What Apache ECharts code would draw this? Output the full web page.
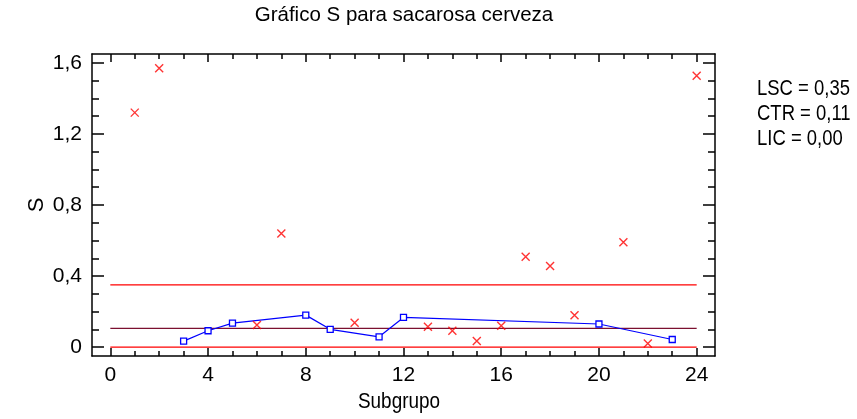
<!DOCTYPE html>
<html>
<head>
<meta charset="utf-8">
<script src="https://cdn.jsdelivr.net/npm/echarts@6/dist/echarts.min.js"></script>
<style>html,body{margin:0;padding:0;background:#fff}#c{width:857px;height:419px}</style>
</head>
<body>
<div id="c"></div>
<script>
// ---- data ----
var titleText = 'Gráfico S para sacarosa cerveza';
var xName = 'Subgrupo';
var yName = 'S';
// excluded subgroups (red crosses)
var crossSubgroups = [1, 2, 6, 7, 10, 13, 14, 15, 16, 17, 18, 19, 21, 22, 24];
var crossValues   = [1.32, 1.57, 0.124, 0.64, 0.137, 0.114, 0.092, 0.034, 0.12, 0.509, 0.456, 0.18, 0.59, 0.021, 1.527];
// included subgroups (blue squares, joined)
var squareSubgroups = [3, 4, 5, 8, 9, 11, 12, 20, 23];
var squareValues    = [0.034, 0.092, 0.135, 0.18, 0.10, 0.058, 0.167, 0.13, 0.043];
// control limits
var limitNames  = ['LSC', 'CTR', 'LIC'];
var limitValues = [0.35, 0.105, 0.0];
var limitLabels = ['0,35', '0,11', '0,00'];
var limitRange  = [0, 24];
// axis ticks
var xLabelValues = [0, 4, 8, 12, 16, 20, 24];
var xLabelTexts  = ['0', '4', '8', '12', '16', '20', '24'];
var xMinorTicks  = [0,1,2,3,4,5,6,7,8,9,10,11,12,13,14,15,16,17,18,19,20,21,22,23,24];
var yLabelValues = [0, 0.4, 0.8, 1.2, 1.6];
var yLabelTexts  = ['0', '0,4', '0,8', '1,2', '1,6'];
var yMinorTicks  = [0,0.1,0.2,0.3,0.4,0.5,0.6,0.7,0.8,0.9,1.0,1.1,1.2,1.3,1.4,1.5,1.6];
var xMin = -0.75, xMax = 24.75, yMin = -0.05, yMax = 1.65;

// ---- chart ----
var FONT = "'Liberation Sans', Arial, sans-serif";
var chart = echarts.init(document.getElementById('c'), null, {renderer: 'canvas'});

function lab(values, texts) {
  return function (v) {
    for (var i = 0; i < values.length; i++) if (Math.abs(values[i] - v) < 1e-9) return texts[i];
    return '';
  };
}

function xAxisDef(gridIndex, position, ticks, len, showLine, showLabel) {
  return {
    type: 'value', gridIndex: gridIndex, position: position, min: xMin, max: xMax,
    axisLine: {show: showLine, onZero: false, lineStyle: {color: '#000', width: 1.5}},
    axisTick: {show: true, inside: true, length: len, customValues: ticks, lineStyle: {color: '#000', width: 1.5}},
    axisLabel: {show: showLabel, customValues: xLabelValues, formatter: lab(xLabelValues, xLabelTexts),
      color: '#000', fontFamily: FONT, fontSize: 21, margin: 9},
    splitLine: {show: false}
  };
}
function yAxisDef(gridIndex, position, ticks, len, showLine, showLabel) {
  return {
    type: 'value', gridIndex: gridIndex, position: position, min: yMin, max: yMax,
    axisLine: {show: showLine, onZero: false, lineStyle: {color: '#000', width: 1.5}},
    axisTick: {show: true, inside: true, length: len, customValues: ticks, lineStyle: {color: '#000', width: 1.5}},
    axisLabel: {show: showLabel, customValues: yLabelValues, formatter: lab(yLabelValues, yLabelTexts),
      color: '#000', fontFamily: FONT, fontSize: 21, margin: 10},
    splitLine: {show: false}
  };
}

var limitColors = ['#ff0000', '#7b1030', '#ff0000'];
var series = [];
limitValues.forEach(function (v, i) {
  series.push({
    type: 'line', xAxisIndex: 0, yAxisIndex: 0, symbol: 'none', silent: true,
    data: [[limitRange[0], v], [limitRange[1], v]],
    lineStyle: {color: limitColors[i], width: 1.3}, z: 2
  });
});
series.push({
  type: 'line', xAxisIndex: 0, yAxisIndex: 0,
  data: squareSubgroups.map(function (s, i) { return [s, squareValues[i]]; }),
  symbol: 'rect', symbolSize: 6, showSymbol: true,
  lineStyle: {color: '#0000ff', width: 1.2},
  itemStyle: {color: '#ffffff', borderColor: '#0000ff', borderWidth: 1.3}, z: 3
});
series.push({
  type: 'scatter', xAxisIndex: 0, yAxisIndex: 0,
  data: crossSubgroups.map(function (s, i) { return [s, crossValues[i]]; }),
  symbol: 'path://M0,0L10,10M10,0L0,10', symbolSize: 8,
  itemStyle: {color: 'none', borderColor: '#ff0000', borderWidth: 1.4}, z: 4
});

var graphics = [];
limitNames.forEach(function (n, i) {
  graphics.push({type: 'text', x: 757, y: 78 + 25 * i, scaleX: 0.84,
    style: {text: n + ' = ' + limitLabels[i], font: "22px " + FONT, fill: '#000', textAlign: 'left', textVerticalAlign: 'top'}});
});
graphics.push({type: 'text', x: 37, y: 205, rotation: Math.PI / 2,
  style: {text: yName, font: "22px " + FONT, fill: '#000', textAlign: 'center', textVerticalAlign: 'middle'}});
graphics.push({type: 'text', x: 399, y: 391, scaleX: 0.86,
  style: {text: xName, font: "22px " + FONT, fill: '#000', textAlign: 'center', textVerticalAlign: 'top'}});

chart.setOption({
  animation: false,
  backgroundColor: '#ffffff',
  title: {text: titleText, left: 399, textAlign: 'center', top: 0,
    textStyle: {fontFamily: FONT, fontSize: 20.5, fontWeight: 'normal', color: '#000'}},
  grid: [
    {left: 92, top: 54, width: 623, height: 302, outerBoundsMode: 'none', containLabel: false},
    {left: 92, top: 54, width: 623, height: 302, outerBoundsMode: 'none', containLabel: false}
  ],
  xAxis: [
    xAxisDef(0, 'bottom', xLabelValues, 8, true, true),
    xAxisDef(0, 'top', xLabelValues, 8, true, false),
    xAxisDef(1, 'bottom', xMinorTicks, 5, false, false),
    xAxisDef(1, 'top', xMinorTicks, 5, false, false)
  ],
  yAxis: [
    yAxisDef(0, 'left', yLabelValues, 12, true, true),
    yAxisDef(0, 'right', yLabelValues, 12, true, false),
    yAxisDef(1, 'left', yMinorTicks, 7, false, false),
    yAxisDef(1, 'right', yMinorTicks, 7, false, false)
  ],
  graphic: graphics,
  series: series
});
</script>
</body>
</html>
